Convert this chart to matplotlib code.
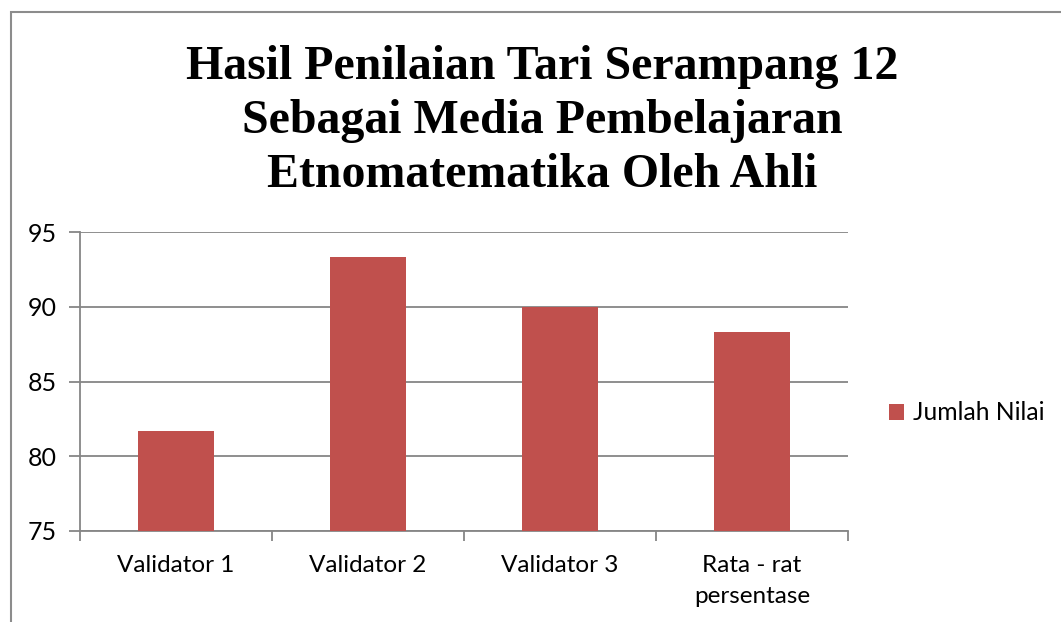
import matplotlib
matplotlib.use("Agg")
import matplotlib.pyplot as plt
from matplotlib.patches import Rectangle

categories = ["Validator 1", "Validator 2", "Validator 3", "Rata - rat\npersentase"]
values = [81.67, 93.33, 90.0, 88.33]
yticks = [75, 80, 85, 90, 95]
series_name = "Jumlah Nilai"
title_lines = ["Hasil Penilaian Tari Serampang 12",
               "Sebagai Media Pembelajaran",
               "Etnomatematika Oleh Ahli"]

W, H = 1061, 622
fig = plt.figure(figsize=(W / 100, H / 100), dpi=100)
fig.patch.set_facecolor("white")

# outer chart border
fig.patches.append(Rectangle((11 / W, -0.01), 1.05, 1 - 12 / H + 0.01, transform=fig.transFigure,
                             fill=False, edgecolor="#8c8c8c", linewidth=1.5))

ax = fig.add_axes([80 / W, 1 - 531 / H, (848 - 80) / W, (531 - 232) / H])
grid = "#868686"
x = list(range(len(categories)))
bars = ax.bar(x, values, width=0.4, color="#C0504D", label=series_name, zorder=3)
ax.set_xlim(-0.5, len(categories) - 0.5)
ax.set_ylim(75, 95)
ax.set_yticks(yticks)
ax.yaxis.grid(True, color=grid, linewidth=1.3)
ax.set_axisbelow(True)
for s in ["top", "right"]:
    ax.spines[s].set_visible(False)
for s in ["left", "bottom"]:
    ax.spines[s].set_color(grid)
    ax.spines[s].set_linewidth(1.3)

fnt = "Lato"
ax.set_xticks(x)
ax.set_xticklabels(categories, fontsize=17.5, family=fnt, color="black", linespacing=1.62)
ax.tick_params(axis="x", length=0, pad=17)
ax.set_xticks([i - 0.5 for i in range(len(categories) + 1)], minor=True)
ax.tick_params(axis="x", which="minor", length=7, width=1.3, color=grid, direction="out")
ax.tick_params(axis="y", length=8, width=1.3, color=grid, direction="out", pad=9)
for lbl in ax.get_yticklabels():
    lbl.set_family(fnt)
    lbl.set_fontsize(18)

for line, yb in zip(title_lines, [79, 133, 187]):
    fig.text(542 / W, 1 - yb / H, line, ha="center", va="baseline", family="Liberation Serif",
             fontweight="bold", fontsize=34.5)

leg = fig.legend(handles=[bars], labels=[series_name], loc="center left",
                 bbox_to_anchor=(877 / W, 1 - 413 / H), frameon=False,
                 prop={"family": fnt, "size": 17.7}, handlelength=0.6, handleheight=0.6,
                 handletextpad=0.35, borderpad=0)

fig.savefig("out.png", dpi=100, facecolor="white")
